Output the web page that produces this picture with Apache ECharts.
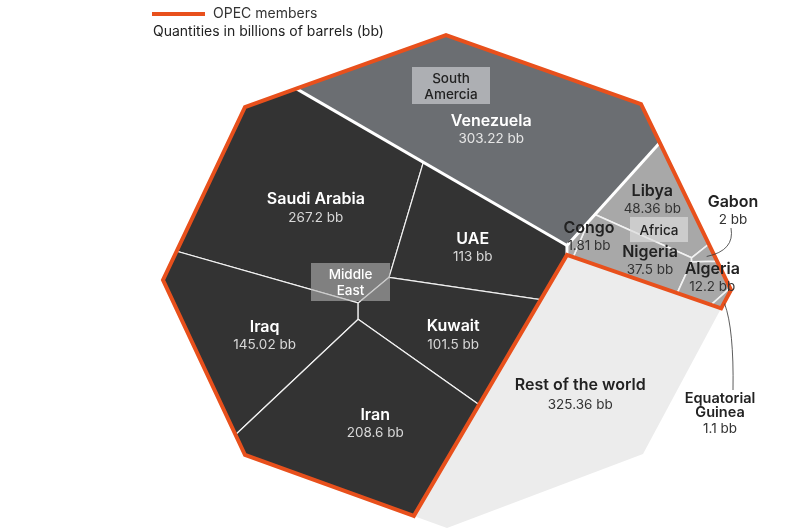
<!DOCTYPE html>
<html><head><meta charset="utf-8">
<script src="https://cdn.jsdelivr.net/npm/echarts@6/dist/echarts.min.js"></script>
<style>html,body{margin:0;padding:0;background:#fff}#c{width:800px;height:528px}</style>
</head><body><div id="c"></div>
<script>
// ---------------- DATA ----------------
const groups = ['Middle East', 'South America', 'Africa', 'Rest of the world'];
const groupTitles = ['Middle\nEast', 'South\nAmercia', 'Africa', ''];
const countries = ['Saudi Arabia', 'UAE', 'Iraq', 'Kuwait', 'Iran', 'Venezuela', 'Libya', 'Nigeria', 'Algeria', 'Congo', 'Gabon', 'Equatorial\nGuinea', 'Rest of the world'];
const reserves = [267.2, 113, 145.02, 101.5, 208.6, 303.22, 48.36, 37.5, 12.2, 1.81, 2, 1.1, 325.36];
const countryGroup = [0, 0, 0, 0, 0, 1, 2, 2, 2, 2, 2, 2, 3];
const isOpec = [true, true, true, true, true, true, true, true, true, true, true, true, false];
const unitLabel = 'bb';
const legendText = 'OPEC members';
const noteText = 'Quantities in billions of barrels (bb)';

// ---------------- LAYOUT (shape + seeds of the weighted Voronoi treemap) ----------------
const OUTLINE = [[446,35],[641,104],[731,290],[643,454],[447,528],[245,455],[163,280],[245,107]];
const GROUP_SEEDS = [[320,330],[444,116],[681,330],[620,506]];
const COUNTRY_SEEDS = [[300,190],[441,232],[257,341],[425,341],[353,443],[470,110],[650,185],[619,254],[704,293],[575,235],[703,252],[712,302],[590,400]];
const LABEL_FIXED = {9: [589,238], 10: [733,212], 11: [720,421]};
const LABEL_OFFSET = {0: [10,10], 1: [0,6], 2: [12,7], 3: [4,8], 4: [12,3], 5: [-8,3], 6: [-4,-6], 7: [18,7], 8: [8,-3], 12: [8,4]};
const GROUP_BOX = {0: [311,263,79,38], 1: [412,67,78,37], 2: [630,217,58,25]};
const COLORS = {group: ['#333333', '#6b6e72', '#a8a8a8', '#ececec'], orange: '#e8501c'};

// ---------------- POWER DIAGRAM ----------------
function clip(poly, a, b, c, label) {
  const out = [], n = poly.length;
  for (let k = 0; k < n; k++) {
    const P = poly[k], Q = poly[(k + 1) % n];
    const fP = a * P.x + b * P.y - c, fQ = a * Q.x + b * Q.y - c;
    const inP = fP <= 0, inQ = fQ <= 0;
    if (inP) out.push({x: P.x, y: P.y, lab: P.lab});
    if (inP !== inQ) {
      const t = fP / (fP - fQ);
      out.push({x: P.x + t * (Q.x - P.x), y: P.y + t * (Q.y - P.y), lab: inP ? label : P.lab});
    }
  }
  return out;
}
function powerCells(poly, S, W) {
  return S.map((si, i) => {
    let cell = poly.map(p => ({x: p.x, y: p.y, lab: p.lab}));
    for (let j = 0; j < S.length && cell.length; j++) {
      if (j === i) continue;
      const sj = S[j];
      const a = 2 * (sj[0] - si[0]), b = 2 * (sj[1] - si[1]);
      const c = (sj[0] * sj[0] + sj[1] * sj[1]) - (si[0] * si[0] + si[1] * si[1]) - W[j] + W[i];
      cell = clip(cell, a, b, c, j);
    }
    return cell;
  });
}
function area(c) { let s = 0; for (let k = 0; k < c.length; k++) { const P = c[k], Q = c[(k + 1) % c.length]; s += P.x * Q.y - Q.x * P.y; } return Math.abs(s) / 2; }
function centroid(c) {
  let s = 0, cx = 0, cy = 0;
  for (let k = 0; k < c.length; k++) { const P = c[k], Q = c[(k + 1) % c.length]; const cr = P.x * Q.y - Q.x * P.y; s += cr; cx += (P.x + Q.x) * cr; cy += (P.y + Q.y) * cr; }
  s /= 2; return {x: cx / (6 * s), y: cy / (6 * s)};
}
function gauss(M, r) {
  const n = r.length; M = M.map((row, i) => row.concat([r[i]]));
  for (let i = 0; i < n; i++) {
    let p = i; for (let k = i + 1; k < n; k++) if (Math.abs(M[k][i]) > Math.abs(M[p][i])) p = k;
    [M[i], M[p]] = [M[p], M[i]];
    const d = M[i][i] || 1e-12;
    for (let k = i + 1; k < n; k++) { const f = M[k][i] / d; for (let j = i; j <= n; j++) M[k][j] -= f * M[i][j]; }
  }
  const x = new Array(n).fill(0);
  for (let i = n - 1; i >= 0; i--) { let s = M[i][n]; for (let j = i + 1; j < n; j++) s -= M[i][j] * x[j]; x[i] = s / (M[i][i] || 1e-12); }
  return x;
}
function solve(poly, S, values) {
  const n = S.length, tot = values.reduce((a, b) => a + b, 0), A0 = area(poly);
  const T = values.map(v => v / tot * A0);
  let W = new Array(n).fill(0);
  const ev = w => { const cells = powerCells(poly, S, w); return {cells, A: cells.map(area)}; };
  let cur = ev(W);
  if (n === 1) return cur.cells;
  const errOf = A => A.reduce((s, a, i) => s + Math.abs(a - T[i]), 0);
  for (let it = 0; it < 300; it++) {
    const err = errOf(cur.A); if (err < 1e-4) break;
    const J = Array.from({length: n}, () => new Array(n).fill(0));
    cur.cells.forEach((cell, i) => {
      for (let k = 0; k < cell.length; k++) {
        const P = cell[k], Q = cell[(k + 1) % cell.length], j = P.lab;
        if (j < 0) continue;
        const L = Math.hypot(Q.x - P.x, Q.y - P.y), d = Math.hypot(S[i][0] - S[j][0], S[i][1] - S[j][1]);
        const c = L / (2 * d); J[i][i] += c; J[i][j] -= c;
      }
    });
    const M = [], rhs = [];
    for (let i = 1; i < n; i++) { M.push(J[i].slice(1).map((v, k) => v + (k === i - 1 ? 1e-6 : 0))); rhs.push(T[i] - cur.A[i]); }
    const d = gauss(M, rhs);
    let step = 1, ok = false;
    while (step > 1e-6) {
      const W2 = W.map((w, i) => i === 0 ? w : w + step * d[i - 1]);
      const nx = ev(W2);
      if (nx.A.every(a => a > 1e-6) && errOf(nx.A) < err) { W = W2; cur = nx; ok = true; break; }
      step /= 2;
    }
    if (!ok) break;
  }
  return cur.cells;
}

// ---------------- LAYOUT COMPUTATION ----------------
const octagon = OUTLINE.map(p => ({x: p[0], y: p[1], lab: -1}));
const groupValues = groups.map((g, gi) => reserves.reduce((s, v, i) => s + (countryGroup[i] === gi ? v : 0), 0));
const groupCells = solve(octagon, GROUP_SEEDS, groupValues);
const groupOpec = groups.map((g, gi) => countryGroup.some((cg, i) => cg === gi && isOpec[i]));
const countryCells = new Array(countries.length);
groups.forEach((g, gi) => {
  const idx = countries.map((c, i) => i).filter(i => countryGroup[i] === gi);
  const parent = groupCells[gi].map(p => ({x: p.x, y: p.y, lab: -1}));
  const cells = solve(parent, idx.map(i => COUNTRY_SEEDS[i]), idx.map(i => reserves[i]));
  idx.forEach((ci, k) => { countryCells[ci] = cells[k]; });
});
const centers = countryCells.map(c => centroid(c));

// orange OPEC outline + white group borders
const orangeSegs = [], whiteSegs = [];
groupCells.forEach((cell, g) => {
  if (!groupOpec[g]) return;
  for (let k = 0; k < cell.length; k++) {
    const P = cell[k], Q = cell[(k + 1) % cell.length], j = P.lab;
    if (Math.hypot(Q.x - P.x, Q.y - P.y) < 1e-6) continue;
    if (j < 0 || !groupOpec[j]) orangeSegs.push([[P.x, P.y], [Q.x, Q.y]]);
    else if (j > g) whiteSegs.push([[P.x, P.y], [Q.x, Q.y]]);
  }
});
function chain(segs) {
  if (!segs.length) return null;
  const left = segs.slice(1), path = [segs[0][0], segs[0][1]];
  while (left.length) {
    const last = path[path.length - 1];
    const k = left.findIndex(s => Math.hypot(s[0][0] - last[0], s[0][1] - last[1]) < 0.6);
    if (k < 0) return null;
    path.push(left[k][1]); left.splice(k, 1);
  }
  path.pop();
  return path;
}
const opecRing = chain(orangeSegs);

// ---------------- CHART ----------------
const chart = echarts.init(document.getElementById('c'), null, {renderer: 'canvas'});
const FONT = 'Inter, "Noto Sans", sans-serif';
function textColors(i) {
  const g = countryGroup[i];
  if (g === 0) return ['#ffffff', '#d8d8d8'];
  if (g === 1) return ['#ffffff', '#e6e6e6'];
  return ['#222222', '#333333'];
}
const option = {
  animation: false,
  grid: {left: 0, right: 0, top: 0, bottom: 0},
  xAxis: {type: 'value', min: 0, max: 800, show: false},
  yAxis: {type: 'value', min: 0, max: 528, inverse: true, show: false},
  series: [
    {
      type: 'custom', z: 1, silent: true,
      data: countries.map((c, i) => [centers[i].x, centers[i].y, i]),
      encode: {x: 0, y: 1},
      renderItem: (params, api) => {
        const i = params.dataIndex, g = countryGroup[i];
        const pts = countryCells[i].map(p => api.coord([p.x, p.y]));
        return {
          type: 'polygon', shape: {points: pts},
          style: {fill: COLORS.group[g], stroke: g === 3 ? COLORS.group[g] : '#f2f2f2', lineWidth: g === 3 ? 0 : (g === 2 ? 1.6 : 1.2)}
        };
      }
    },
    {
      type: 'custom', z: 2, silent: true,
      data: [[400, 264]], encode: {x: 0, y: 1},
      renderItem: (params, api) => {
        const children = whiteSegs.map(s => ({type: 'polyline', shape: {points: s.map(p => api.coord(p))}, style: {stroke: '#ffffff', lineWidth: 3, fill: null}}));
        if (opecRing) children.push({type: 'polygon', shape: {points: opecRing.map(p => api.coord(p))}, style: {fill: null, stroke: COLORS.orange, lineWidth: 4, lineJoin: 'miter'}});
        else orangeSegs.forEach(s => children.push({type: 'polyline', shape: {points: s.map(p => api.coord(p))}, style: {stroke: COLORS.orange, lineWidth: 4, lineCap: 'square', fill: null}}));
        Object.keys(GROUP_BOX).forEach(gk => {
          const b = GROUP_BOX[gk], g = +gk;
          const p = api.coord([b[0], b[1]]);
          const fills = ['rgba(180,180,180,0.6)', 'rgba(185,187,190,0.85)', 'rgba(220,220,220,0.7)'];
          const tcol = ['#ffffff', '#222222', '#222222'];
          children.push({type: 'rect', shape: {x: p[0], y: p[1], width: b[2], height: b[3]}, style: {fill: fills[g]}});
          children.push({type: 'text', style: {text: groupTitles[g], x: p[0] + b[2] / 2, y: p[1] + b[3] / 2 + 1, align: 'center', verticalAlign: 'middle', fontFamily: FONT, fontSize: 13.5, fontWeight: 500, lineHeight: 16, fill: tcol[g]}});
        });
        return {type: 'group', children};
      }
    },
    {
      type: 'custom', z: 3, silent: true,
      data: countries.map((c, i) => [centers[i].x, centers[i].y, i]),
      encode: {x: 0, y: 1},
      renderItem: (params, api) => {
        const i = params.dataIndex;
        const off = LABEL_OFFSET[i] || [0, 0];
        const anchor = LABEL_FIXED[i] ? LABEL_FIXED[i] : [centers[i].x + off[0], centers[i].y + off[1]];
        const p = api.coord(anchor);
        const [c1, c2] = textColors(i);
        const multi = countries[i].indexOf('\n') >= 0;
        const children = [
          {type: 'text', style: {text: countries[i], x: p[0], y: p[1] - 1, align: 'center', verticalAlign: 'bottom', fontFamily: FONT, fontSize: multi ? 14.5 : 16, fontWeight: 600, lineHeight: multi ? 14 : 18, fill: c1}},
          {type: 'text', style: {text: reserves[i] + ' ' + unitLabel, x: p[0], y: p[1] + (i === 12 ? 3 : 1), align: 'center', verticalAlign: 'top', fontFamily: FONT, fontSize: 13.5, fontWeight: 400, fill: c2}}
        ];
        if (i === 10) {
          const c = api.coord([centers[i].x, centers[i].y]);
          children.push({type: 'bezierCurve', shape: {x1: p[0] - 2, y1: p[1] + 16, cpx1: p[0] + 2, cpy1: c[1] - 5, x2: c[0] + 2, y2: c[1] + 1}, style: {stroke: '#333', lineWidth: 0.8, fill: null}});
        }
        if (i === 11) {
          const c = api.coord([centers[i].x, centers[i].y]);
          children.push({type: 'bezierCurve', shape: {x1: c[0] + 3, y1: c[1] + 4, cpx1: p[0] + 14, cpy1: c[1] + 30, x2: p[0] + 13, y2: p[1] - 31}, style: {stroke: '#333', lineWidth: 0.8, fill: null}});
        }
        return {type: 'group', children};
      }
    }
  ],
  graphic: [
    {type: 'line', shape: {x1: 152, y1: 14, x2: 205, y2: 14}, style: {stroke: COLORS.orange, lineWidth: 4}},
    {type: 'text', x: 213, y: 14, style: {text: legendText, verticalAlign: 'middle', fontFamily: FONT, fontSize: 14, fill: '#333'}},
    {type: 'text', x: 153, y: 32, style: {text: noteText, verticalAlign: 'middle', fontFamily: FONT, fontSize: 14, fill: '#222'}}
  ]
};
chart.setOption(option);
</script>
</body></html>
